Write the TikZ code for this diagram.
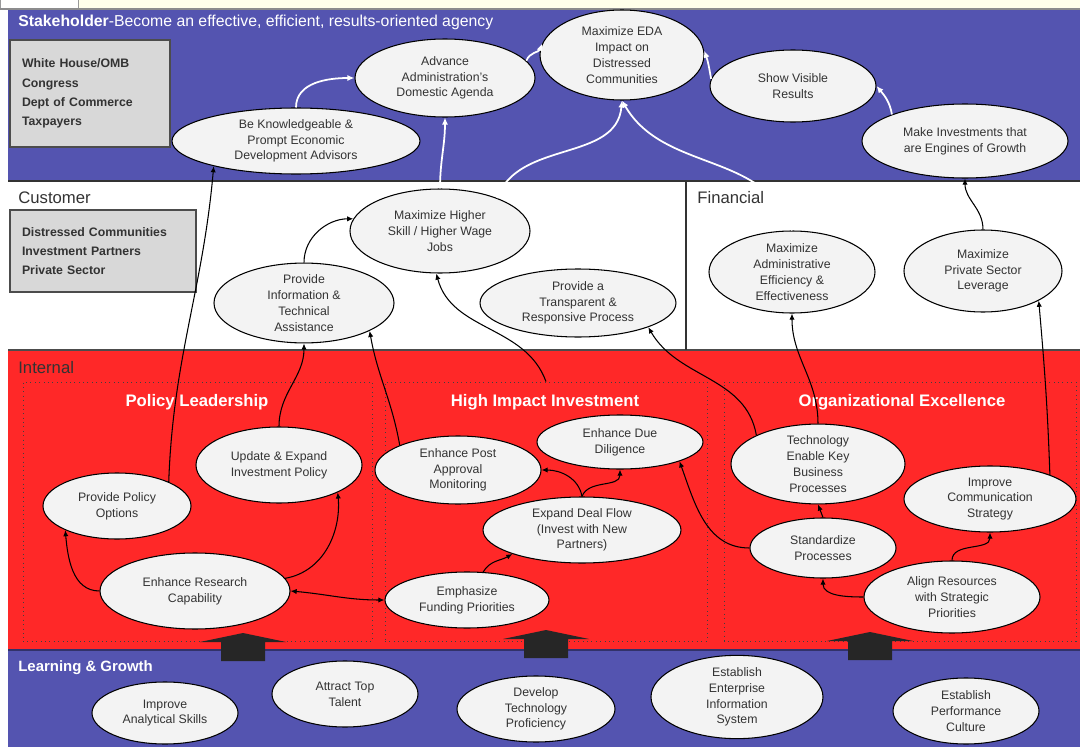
\documentclass[tikz,border=0pt]{standalone}
\usepackage{fontspec}
\setmainfont{Liberation Sans}
\usetikzlibrary{shapes.geometric,arrows.meta}
\definecolor{bandblue}{RGB}{84,84,176}
\definecolor{bandred}{RGB}{255,40,40}
\definecolor{ellfill}{RGB}{243,243,243}
\definecolor{boxgray}{RGB}{216,216,216}
\definecolor{textgray}{RGB}{51,51,51}
\definecolor{cream}{RGB}{255,255,234}
\begin{document}
\begin{tikzpicture}[x=0.02cm, y=-0.02cm,
            wh/.style 2 args={minimum width=#1*0.02cm, minimum height=#2*0.02cm},
            goal node/.style={ellipse, draw=black, line width=0.6pt, fill=ellfill, inner sep=0pt, align=center, text=textgray, font=\fontsize{7}{9}\selectfont},
            box node/.style={rectangle, draw=black!70, line width=0.6pt, fill=boxgray, inner xsep=0.24cm, inner ysep=0pt, align=left, text=textgray, font=\bfseries\fontsize{7}{11}\selectfont},
            group node/.style={rectangle, draw=black!75, dotted, line width=0.5pt},
            group title/.style={text=white, font=\bfseries\fontsize{9.5}{11}\selectfont},
            band label/.style={anchor=west, inner sep=0pt, text=textgray, font=\fontsize{9.5}{11}\selectfont},
            link/.style={-{Latex[length=3.5pt,width=3pt]}, line width=0.6pt, black},
            wlink/.style={-{Latex[length=4pt,width=3.5pt]}, line width=1pt, white},
            upblock/.style={fill=black!85}]
            \useasboundingbox (0,0) rectangle (1080,747);

            % fonds des bandeaux
            \fill[white] (0,0) rectangle (1080,747);
            \fill[cream] (0,0) rectangle (1080,9);
            \draw[black!40, fill=white!95!cream] (0,-1) rectangle (78,8);
            \draw[black!45, line width=0.6pt] (0,9) -- (1080,9);
            \fill[bandblue] (8,10) rectangle (1080,181);
            \fill[bandred] (8,350) rectangle (1080,650);
            \fill[bandblue] (8,650) rectangle (1080,747);
            \draw[black!80, line width=1pt] (8,181) -- (1080,181);
            \draw[black!70, line width=1pt] (8,350) -- (1080,350);
            \draw[black!80, line width=0.8pt] (686,181) -- (686,350);
            \draw[bandblue!60!black, line width=0.8pt] (8,650) -- (1080,650);

            % titres des bandeaux
            \node[band label, text=white, font=\fontsize{9}{11}\selectfont] (stake) at (18,22) {\textbf{Stakeholder}-Become an effective, efficient, results-oriented agency};
            \node[band label] (cust) at (18,198) {Customer};
            \node[band label] (fin) at (697,198) {Financial};
            \node[band label] (intl) at (18,368) {Internal};
            \node[band label, text=white, font=\bfseries\fontsize{8.5}{10}\selectfont] (learn) at (18,668) {Learning \& Growth};

            % encadres gris
            \node[box node, text width=2.72cm, wh={160}{107}] (shbox) at (90,93.5) {White House/OMB\\Congress\\Dept of Commerce\\Taxpayers};
            \node[box node, text width=3.24cm, wh={186}{82}] (cubox) at (103,251) {Distressed Communities\\Investment Partners\\Private Sector};

            % groupes internes
            \node[group node, wh={349}{259}] (plbox) at (197.5,511.5) {};
            \node[group node, wh={322}{259}] (hibox) at (546,511.5) {};
            \node[group node, wh={352}{259}] (oebox) at (900,511.5) {};
            \node[group title] (plt) at (197,402) {Policy Leadership};
            \node[group title] (hit) at (545,402) {High Impact Investment};
            \node[group title] (oet) at (902,402) {Organizational Excellence};

            % fleches pleines
            \foreach \x/\t in {243/633, 546/630, 870/632}
                \fill[upblock] ({\x-22},{\t+28}) -- ({\x-22},{\t+9}) -- ({\x-43},{\t+9}) -- (\x,\t)
                    -- ({\x+43},{\t+9}) -- ({\x+22},{\t+9}) -- ({\x+22},{\t+28}) -- cycle;

            % objectifs stakeholder
            \node[goal node, wh={180}{78}] (aada) at (445,78) {Advance\\Administration's\\Domestic Agenda};
            \node[goal node, wh={164}{90}] (meda) at (622,55) {Maximize EDA\\Impact on\\Distressed\\Communities};
            \node[goal node, wh={166}{72}] (svr) at (793,86) {Show Visible\\Results};
            \node[goal node, wh={206}{74}] (mieg) at (965,141) {Make Investments that\\are Engines of Growth};
            \node[goal node, wh={248}{66}] (bk) at (296,141) {Be Knowledgeable \&\\Prompt Economic\\Development Advisors};

            % objectifs customer et financial
            \node[goal node, wh={180}{84}] (mhs) at (440,231) {Maximize Higher\\Skill / Higher Wage\\Jobs};
            \node[goal node, wh={180}{78}] (pinfo) at (304,303) {Provide\\Information \&\\Technical\\Assistance};
            \node[goal node, wh={196}{68}] (tp) at (578,303) {Provide a\\Transparent \&\\Responsive Process};
            \node[goal node, wh={166}{82}] (maee) at (792,272) {Maximize\\Administrative\\Efficiency \&\\Effectiveness};
            \node[goal node, wh={158}{82}] (mpsl) at (983,271) {Maximize\\Private Sector\\Leverage};

            % objectifs internes
            \node[goal node, wh={148}{66}] (ppo) at (117,506) {Provide Policy\\Options};
            \node[goal node, wh={166}{76}] (uip) at (279,465) {Update \& Expand\\Investment Policy};
            \node[goal node, wh={190}{76}] (erc) at (195,591) {Enhance Research\\Capability};
            \node[goal node, wh={166}{68}] (epam) at (458,470) {Enhance Post\\Approval\\Monitoring};
            \node[goal node, wh={166}{54}] (edd) at (620,442) {Enhance Due\\Diligence};
            \node[goal node, wh={198}{66}] (edf) at (582,530) {Expand Deal Flow\\(Invest with New\\Partners)};
            \node[goal node, wh={164}{56}] (efp) at (467,600) {Emphasize\\Funding Priorities};
            \node[goal node, wh={174}{78}] (tek) at (818,464) {Technology\\Enable Key\\Business\\Processes};
            \node[goal node, wh={172}{66}] (ics) at (990,499) {Improve\\Communication\\Strategy};
            \node[goal node, wh={146}{60}] (sp) at (823,548) {Standardize\\Processes};
            \node[goal node, wh={176}{72}] (ars) at (952,597) {Align Resources\\with Strategic\\Priorities};

            % objectifs learning & growth
            \node[goal node, wh={146}{62}] (ias) at (165,713) {Improve\\Analytical Skills};
            \node[goal node, wh={146}{66}] (att) at (345,694) {Attract Top\\Talent};
            \node[goal node, wh={158}{66}] (dtp) at (536,709) {Develop\\Technology\\Proficiency};
            \node[goal node, wh={172}{76}] (eeis) at (737,697) {Establish\\Enterprise\\Information\\System};
            \node[goal node, wh={146}{66}] (epc) at (966,711) {Establish\\Performance\\Culture};

            % liens blancs
            \draw[wlink] (bk.90) to[out=90, in=180] (aada.180);
            \draw[wlink] (mhs.90) to[out=90, in=-90] (aada.-90);
            \draw[wlink] (aada.12) to[out=70, in=-110] (meda.172);
            \draw[wlink] (mhs.30) to[out=70, in=-95] (meda.-90);
            \draw[wlink] (maee.90) to[out=108, in=-60] (meda.-90);
            \draw[wlink] (svr.175) to[out=100, in=-70] (meda.3);
            \draw[wlink] (mieg.160) to[out=100, in=-50] (svr.0);

            % liens noirs
            \draw[link] (ppo.25) to[out=88, in=-95] (bk.197);
            \draw[link] (uip.90) to[out=90, in=-90] (pinfo.-90);
            \draw[link] (epam.157) to[out=100, in=-80] (pinfo.-23);
            \draw[link] (pinfo.90) to[out=90, in=180] (mhs.172);
            \draw[link] (hibox.north) to[out=110, in=-75] (mhs.-95);
            \draw[link] (tek.155) to[out=100, in=-60] (tp.-19);
            \draw[link] (sp.180) to[out=180, in=-70] (edd.-18);
            \draw[link] (edf.90) to[out=100, in=0] (epam.0);
            \draw[link] (edf.90) to[out=70, in=-90] (edd.-90);
            \draw[link] (efp.60) to[out=60, in=210] (edf.199);
            \draw[link] (erc.180) to[out=180, in=-85] (ppo.205);
            \draw[link] (erc.8) to[out=10, in=-85] (uip.-25);
            \draw[link, {Latex[length=3.5pt,width=3pt]}-{Latex[length=3.5pt,width=3pt]}] (erc.0) to[out=-5, in=180] (efp.180);
            \draw[link] (tek.90) to[out=90, in=-90] (maee.-90);
            \draw[link] (ics.22) to[out=92, in=-85] (mpsl.-28);
            \draw[link] (sp.90) to (tek.-90);
            \draw[link] (ars.180) to[out=180, in=-90] (sp.-90);
            \draw[link] (ars.90) to[out=90, in=-90] (ics.-90);
            \draw[link] (mpsl.90) to[out=90, in=-90] (mieg.-90);
        \end{tikzpicture}
\end{document}
